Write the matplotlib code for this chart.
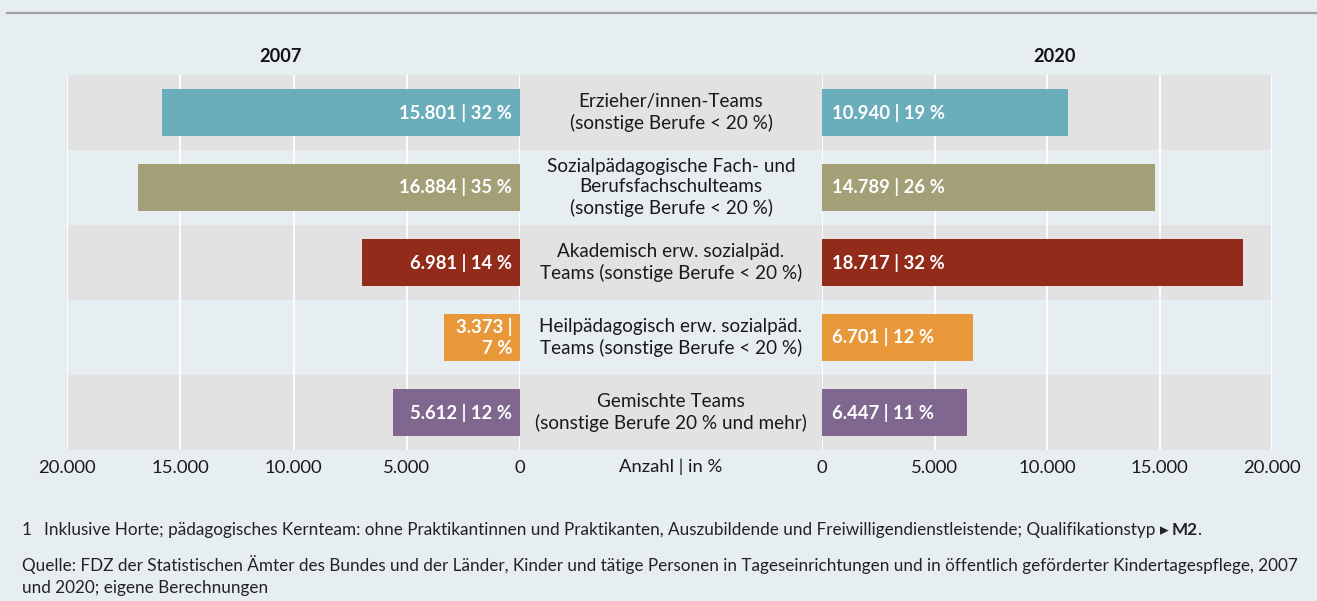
import matplotlib
matplotlib.use("Agg")
import matplotlib.pyplot as plt
from matplotlib.ticker import FuncFormatter

plt.rcParams['font.family'] = ['Lato', 'DejaVu Sans']

categories = [
    "Erzieher/innen-Teams\n(sonstige Berufe < 20 %)",
    "Sozialpädagogische Fach- und\nBerufsfachschulteams\n(sonstige Berufe < 20 %)",
    "Akademisch erw. sozialpäd.\nTeams (sonstige Berufe < 20 %)",
    "Heilpädagogisch erw. sozialpäd.\nTeams (sonstige Berufe < 20 %)",
    "Gemischte Teams\n(sonstige Berufe 20 % und mehr)",
]
values_2007 = [15801, 16884, 6981, 3373, 5612]
pct_2007 = [32, 35, 14, 7, 12]
values_2020 = [10940, 14789, 18717, 6701, 6447]
pct_2020 = [19, 26, 32, 12, 11]
colors = ["#6aaebb", "#a3a078", "#922b1a", "#e89838", "#80678f"]
ticks = [0, 5000, 10000, 15000, 20000]

BG = "#e7eef2"
BAND = "#e2e2e2"
W, H = 1317, 601
fig = plt.figure(figsize=(W / 100, H / 100), dpi=100, facecolor=BG)

def fx(px):
    return px / W

def fy(py):
    return 1 - py / H

# top line
fig.add_artist(plt.Line2D([fx(7), 1], [fy(13), fy(13)], color="#a0a0a0", lw=1.6))

top, bot = 75, 450
n = len(categories)

# background bands
axb = fig.add_axes([fx(67), fy(bot), fx(1272 - 67), (bot - top) / H])
axb.set_xlim(0, 1)
axb.set_ylim(n, 0)
axb.axis("off")
for i in range(n):
    if i % 2 == 0:
        axb.axhspan(i, i + 1, color=BAND, lw=0)

def fmt(v):
    return f"{v:,.0f}".replace(",", ".")

tick_fmt = FuncFormatter(lambda v, p: fmt(v))

def setup(ax, left):
    ax.set_facecolor("none")
    ax.set_ylim(n, 0)
    if left:
        ax.set_xlim(20000, 0)
    else:
        ax.set_xlim(0, 20000)
    ax.set_xticks(ticks)
    ax.xaxis.set_major_formatter(tick_fmt)
    ax.set_yticks([])
    for s in ax.spines.values():
        s.set_visible(False)
    ax.tick_params(axis="x", length=0, pad=7, labelsize=13.3, colors="#1a1a1a")
    for t in ticks:
        ax.axvline(t, color="white", lw=1.3, zorder=1)

axl = fig.add_axes([fx(67), fy(bot), fx(520 - 67), (bot - top) / H])
axr = fig.add_axes([fx(822), fy(bot), fx(1272 - 822), (bot - top) / H])
setup(axl, True)
setup(axr, False)

ys = [i + 0.5 for i in range(n)]
axl.barh(ys, values_2007, height=0.63, color=colors, zorder=2)
axr.barh(ys, values_2020, height=0.63, color=colors, zorder=2)

lab_kw = dict(color="white", fontsize=13.3, fontweight="bold", va="center", zorder=3)
for i in range(n):
    if values_2007[i] < 4000:
        s = f"{fmt(values_2007[i])} |\n{pct_2007[i]} %"
    else:
        s = f"{fmt(values_2007[i])} | {pct_2007[i]} %"
    axl.text(350, ys[i], s, ha="right", multialignment="right", linespacing=1.3, **lab_kw)
    axr.text(450, ys[i], f"{fmt(values_2020[i])} | {pct_2020[i]} %", ha="left", **lab_kw)

# center labels
for i, c in enumerate(categories):
    fig.text(fx(671), fy(top + 75 * i + 37.5), c, ha="center", va="center",
             fontsize=13.6, color="#1a1a1a", linespacing=1.27)

fig.text(fx(671), fy(467), "Anzahl | in %", ha="center", va="center", fontsize=13.3, color="#1a1a1a")
fig.text(fx(280), fy(57), "2007", ha="center", va="center", fontsize=13.1, fontweight="bold", color="#111")
fig.text(fx(1055), fy(57), "2020", ha="center", va="center", fontsize=13.1, fontweight="bold", color="#111")

# footnotes
fn_kw = dict(fontsize=12.3, color="#222", va="center")
fig.text(fx(22), fy(530), "1", **fn_kw)
t1 = fig.text(fx(44), fy(530), "Inklusive Horte; pädagogisches Kernteam: ohne Praktikantinnen und Praktikanten, "
              "Auszubildende und Freiwilligendienstleistende; Qualifikationstyp ", **fn_kw)
fig.canvas.draw()
r = fig.canvas.get_renderer()
bb = t1.get_window_extent(r)
t2 = fig.text(bb.x1 / W, fy(530), "\u25B8", fontsize=12.3, color="#222", va="center", family="DejaVu Sans")
bb2 = t2.get_window_extent(r)
t3 = fig.text(bb2.x1 / W + 3 / W, fy(530), "M2", fontweight="bold", **fn_kw)
bb3 = t3.get_window_extent(r)
fig.text(bb3.x1 / W, fy(530), ".", **fn_kw)

fig.text(fx(22), fy(565), "Quelle: FDZ der Statistischen Ämter des Bundes und der Länder, Kinder und tätige Personen "
         "in Tageseinrichtungen und in öffentlich geförderter Kindertagespflege, 2007", **fn_kw)
fig.text(fx(22), fy(588), "und 2020; eigene Berechnungen", **fn_kw)

fig.savefig("out.png", dpi=100, facecolor=BG)
